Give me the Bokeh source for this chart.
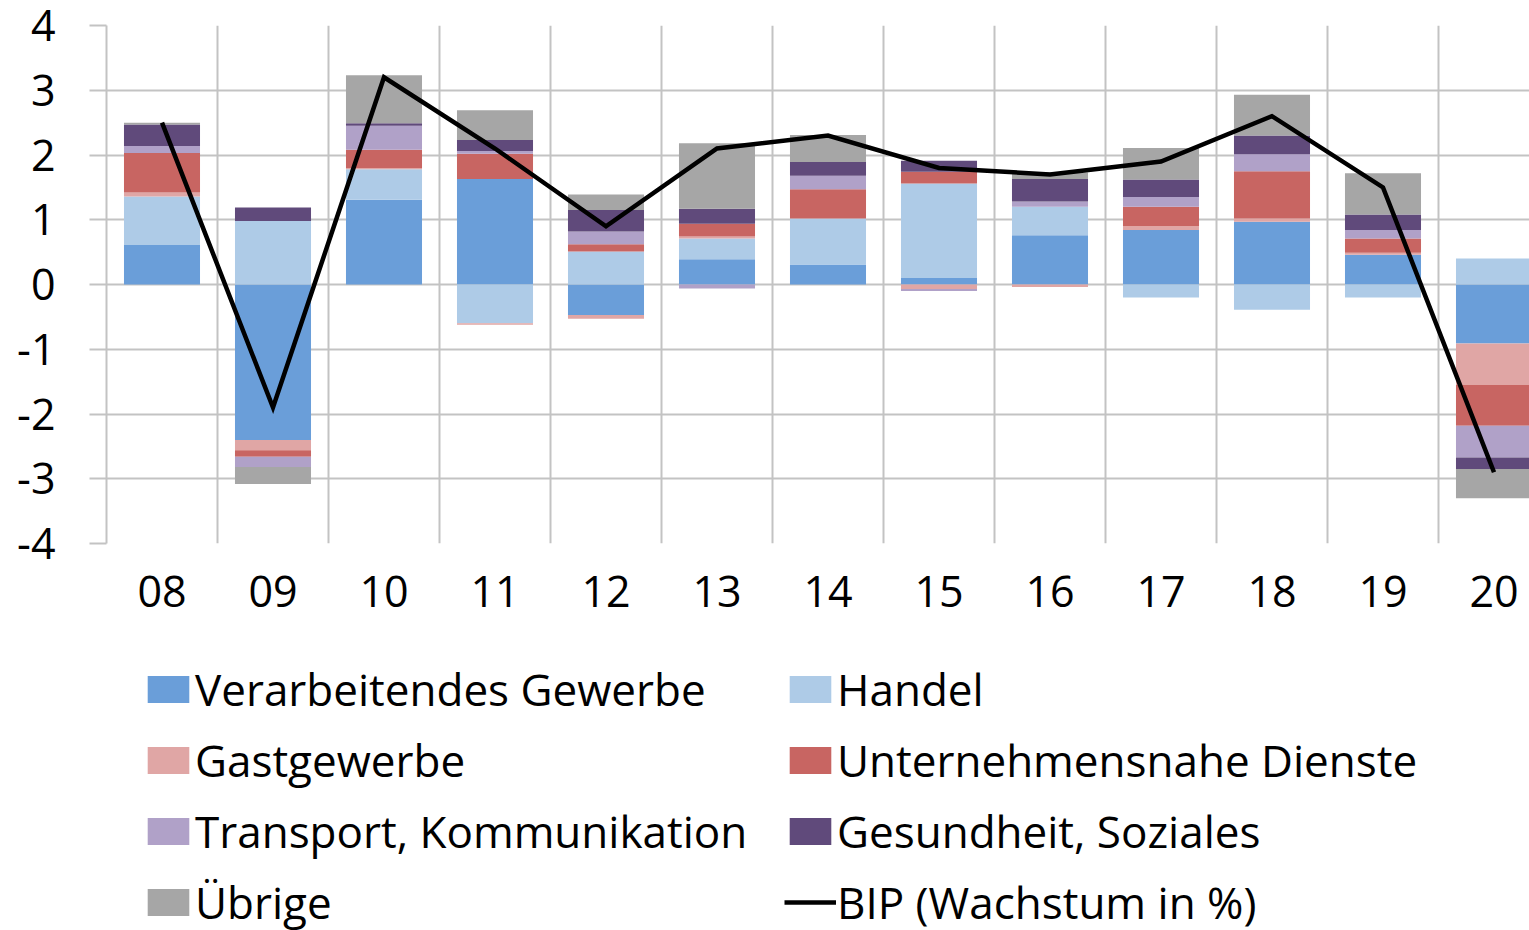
import numpy as np
from bokeh.plotting import figure
from bokeh.layouts import column
from bokeh.models import Range1d, FixedTicker, Legend, LegendItem, ColumnDataSource
from bokeh.embed import file_html
from bokeh.resources import INLINE

# ---------------- data ----------------
years = ["08", "09", "10", "11", "12", "13", "14", "15", "16", "17", "18", "19", "20"]

verarbeitendes = [0.61, -2.40, 1.31, 1.63, -0.47, 0.39, 0.31, 0.10, 0.76, 0.84, 0.97, 0.46, -0.91]
handel         = [0.75, 0.98, 0.47, -0.60, 0.51, 0.32, 0.71, 1.46, 0.44, -0.20, -0.39, -0.20, 0.40]
gastgewerbe    = [0.06, -0.16, 0.02, -0.02, -0.06, 0.03, 0.00, -0.07, -0.04, 0.06, 0.05, 0.03, -0.64]
unternehmen    = [0.61, -0.10, 0.28, 0.39, 0.11, 0.20, 0.45, 0.18, 0.00, 0.30, 0.73, 0.22, -0.63]
transport      = [0.11, -0.16, 0.37, 0.04, 0.20, -0.06, 0.21, -0.03, 0.08, 0.15, 0.26, 0.13, -0.49]
gesundheit     = [0.33, 0.21, 0.04, 0.17, 0.33, 0.23, 0.21, 0.17, 0.35, 0.27, 0.29, 0.24, -0.18]
uebrige        = [0.03, -0.26, 0.74, 0.46, 0.24, 1.01, 0.42, 0.00, 0.10, 0.49, 0.63, 0.64, -0.45]
bip            = [2.5, -1.9, 3.2, 2.1, 0.9, 2.1, 2.3, 1.8, 1.7, 1.9, 2.6, 1.5, -2.9]

series_names = ["Verarbeitendes Gewerbe", "Handel", "Gastgewerbe", "Unternehmensnahe Dienste",
                "Transport, Kommunikation", "Gesundheit, Soziales", "Übrige"]
series_values = [verarbeitendes, handel, gastgewerbe, unternehmen, transport, gesundheit, uebrige]
series_colors = ["#6A9ED9", "#AECBE7", "#E0A6A5", "#C86562", "#B0A1C8", "#604A7B", "#A6A6A6"]
line_name = "BIP (Wachstum in %)"
y_ticks = [-4, -3, -2, -1, 0, 1, 2, 3, 4]

FONT = "Open Sans"
GRID = "#C3C3C3"
W = 1529
H_MAIN = 635
H_LEG = 930 - H_MAIN

x = np.arange(len(years))

# ---------------- main chart ----------------
p = figure(width=W, height=H_MAIN, output_backend="svg", toolbar_location=None,
           x_range=Range1d(-0.5, -0.5 + (W - 106) / 111.0), y_range=Range1d(-4, 4),
           min_border_left=106, min_border_top=25, min_border_bottom=92, min_border_right=0)
p.outline_line_color = None
p.background_fill_color = "white"
p.border_fill_color = "white"

pos_base = np.zeros(len(years))
neg_base = np.zeros(len(years))
for vals, col in zip(series_values, series_colors):
    v = np.array(vals, dtype=float)
    bottom = np.where(v >= 0, pos_base, neg_base)
    top = bottom + v
    pos_base = np.where(v >= 0, top, pos_base)
    neg_base = np.where(v < 0, top, neg_base)
    src = ColumnDataSource(dict(x=x, bottom=bottom, top=top))
    p.vbar(x="x", bottom="bottom", top="top", width=0.685, source=src,
           fill_color=col, line_color=None)

p.line(x=x, y=bip, line_color="black", line_width=4.5, line_join="miter")

p.yaxis.ticker = FixedTicker(ticks=y_ticks)
p.yaxis.major_label_overrides = {t: str(t) for t in y_ticks}
p.yaxis.major_label_text_font = FONT
p.yaxis.major_label_text_font_size = "43px"
p.yaxis.major_label_text_color = "black"
p.yaxis.major_label_standoff = 34
p.yaxis.major_tick_out = 17
p.yaxis.major_tick_in = 0
p.yaxis.major_tick_line_color = GRID
p.yaxis.major_tick_line_width = 2
p.yaxis.minor_tick_line_color = None
p.yaxis.axis_line_color = GRID
p.yaxis.axis_line_width = 2

p.xaxis.ticker = FixedTicker(ticks=list(x))
p.xaxis.major_label_overrides = {int(i): y for i, y in zip(x, years)}
p.xaxis.major_label_text_font = FONT
p.xaxis.major_label_text_font_size = "43px"
p.xaxis.major_label_text_color = "black"
p.xaxis.major_label_standoff = 26
p.xaxis.major_tick_line_color = None
p.xaxis.minor_tick_line_color = None
p.xaxis.axis_line_color = None

p.ygrid.ticker = FixedTicker(ticks=y_ticks)
p.ygrid.grid_line_color = GRID
p.ygrid.grid_line_width = 2
p.xgrid.ticker = FixedTicker(ticks=[i + 0.5 for i in range(len(years) - 1)])
p.xgrid.grid_line_color = GRID
p.xgrid.grid_line_width = 2

# ---------------- legend (separate panel below, same left border) ----------------
lg = figure(width=W, height=H_LEG, output_backend="svg", toolbar_location=None,
            x_range=Range1d(0, 1), y_range=Range1d(0, 1),
            x_axis_type=None, y_axis_type=None,
            min_border_left=106, min_border_top=0, min_border_bottom=0, min_border_right=0)
lg.outline_line_color = None
lg.xgrid.visible = False
lg.ygrid.visible = False

# legend proxies: kept outside the visible range of this panel
swatches = {}
for name, col in zip(series_names, series_colors):
    swatches[name] = lg.vbar(x=[5], bottom=[5], top=[6], width=0.5, fill_color=col, line_color=None)
swatches[line_name] = lg.line(x=[5, 6], y=[5, 5], line_color="black", line_width=4.5)

# column-major order: left column, then right column
order = ["Verarbeitendes Gewerbe", "Gastgewerbe", "Transport, Kommunikation", "Übrige",
         "Handel", "Unternehmensnahe Dienste", "Gesundheit, Soziales", line_name]
items = [LegendItem(label=n, renderers=[swatches[n]]) for n in order]
legend = Legend(items=items, ncols=2, location=(36, -2),
                label_text_font=FONT, label_text_font_size="44px", label_text_color="black",
                glyph_width=52, glyph_height=34, label_standoff=1, spacing=11,
                padding=0, margin=0, border_line_color=None, background_fill_alpha=0,
                label_width=578)
lg.add_layout(legend, "center")

open("out.html", "w").write(file_html(column(p, lg, spacing=0), INLINE))
